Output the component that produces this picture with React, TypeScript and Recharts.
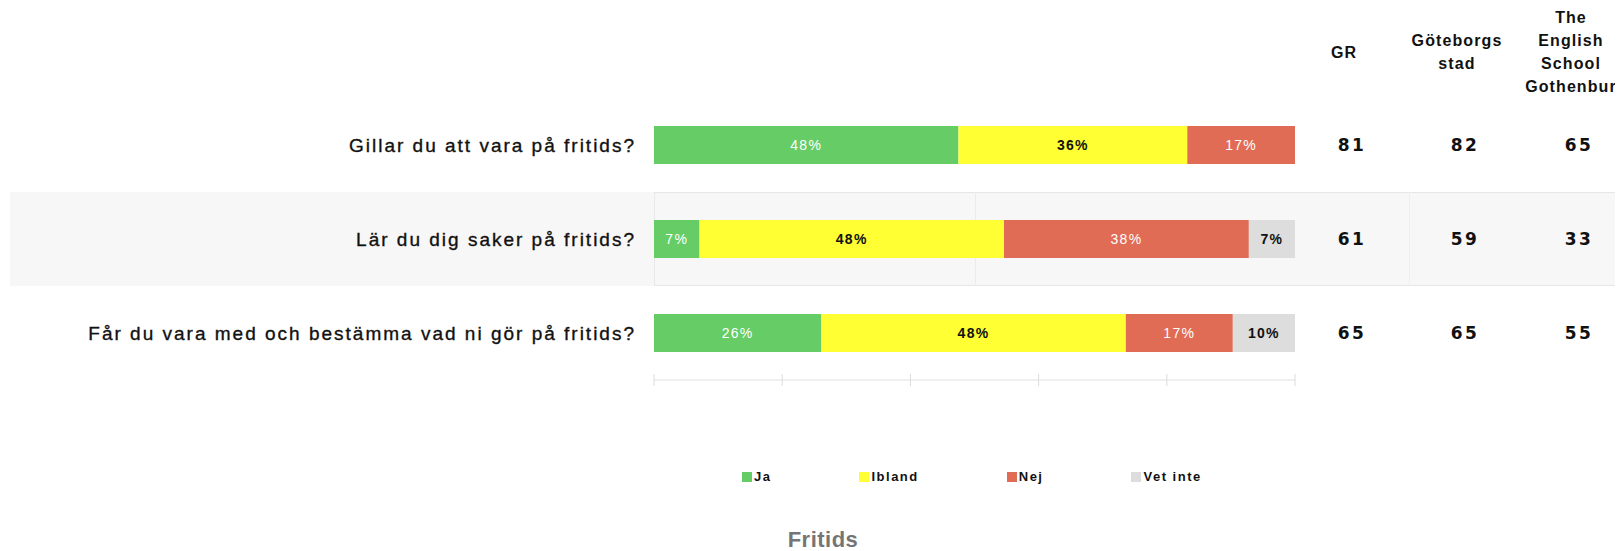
import React from 'react';
import { BarChart, Bar, XAxis, YAxis, Legend, LabelList } from 'recharts';

const questions = [
  'Gillar du att vara på fritids?',
  'Lär du dig saker på fritids?',
  'Får du vara med och bestämma vad ni gör på fritids?',
];
const seriesNames = ['Ja', 'Ibland', 'Nej', 'Vet inte'];
const ja = [47.5, 7.1, 26.1];
const ibland = [35.7, 47.5, 47.5];
const nej = [16.8, 38.2, 16.7];
const vetInte = [0, 7.2, 9.7];

const gr = [81, 61, 65];
const gbgStad = [82, 59, 65];
const englishSchool = [65, 33, 55];

const columnHeaders = [['GR'], ['Göteborgs', 'stad'], ['The', 'English', 'School', 'Gothenbur']];
const xTicks = [0, 20, 40, 60, 80, 100];

const W = 1607;
const H = 535;
const margin = { top: 90, right: 320, bottom: 133, left: 0 };
const Y_AXIS_W = 646;
const X_AXIS_H = 30;
const plotLeft = margin.left + Y_AXIS_W;
const plotRight = W - margin.right;
const plotTop = margin.top;
const bandH = (H - margin.top - margin.bottom - X_AXIS_H) / questions.length;
// header centres; the numbers sit a little to the right of them
const colCenters = [plotRight + 49, plotRight + 162, plotRight + 276];
const NUM_SHIFT = 8;

const FONT = "'Liberation Sans', Arial, sans-serif";
const FONT_NUM = "'DejaVu Sans', 'Liberation Sans', sans-serif";

const data = questions.map((q, i) => ({
  question: q,
  ja: ja[i],
  ibland: ibland[i],
  nej: nej[i],
  vetInte: vetInte[i],
}));

const pct = (v: any) => (Number(v) > 0 ? `${Math.round(Number(v))}%` : '');

function QuestionTick(props: any) {
  const { x, y, payload } = props;
  const i = questions.indexOf(payload.value);
  const vals = [gr[i], gbgStad[i], englishSchool[i]];
  return (
    <g>
      <text x={x} y={y} dy="0.35em" textAnchor="end" fill="#111" stroke="#111" strokeWidth={0.35}
        fontSize={19} fontFamily={FONT} letterSpacing={2}>
        {payload.value}
      </text>
      {vals.map((v, k) => (
        <text key={k} x={colCenters[k] + NUM_SHIFT} y={y} dy="0.35em" textAnchor="middle" fill="#111" fontSize={17}
          fontWeight="bold" fontFamily={FONT_NUM} letterSpacing={2.5}>
          {v}
        </text>
      ))}
    </g>
  );
}

function AxisTick(props: any) {
  const { x, y } = props;
  return <line x1={x} x2={x} y1={y - 6} y2={y + 6} stroke="#dcdcdc" strokeWidth={1} />;
}

function LegendContent(props: any) {
  const items = [...(props.payload || [])].sort(
    (a: any, b: any) => seriesNames.indexOf(a.value) - seriesNames.indexOf(b.value)
  );
  return (
    <div style={{ display: 'flex', gap: 88, alignItems: 'center' }}>
      {items.map((p: any) => (
        <div key={p.value} style={{ display: 'flex', alignItems: 'center' }}>
          <span style={{ width: 10, height: 10, background: p.color, display: 'inline-block', marginRight: 2 }} />
          <span style={{ fontFamily: FONT, fontWeight: 'bold', fontSize: 13, letterSpacing: 1.5, color: '#111' }}>
            {p.value}
          </span>
        </div>
      ))}
    </div>
  );
}

export default function App() {
  return (
    <div style={{ position: 'relative', width: W + 8, height: H + 8, overflow: 'hidden' }}>
      {questions.map((q, i) =>
        i % 2 === 1 ? (
          <div key={q}>
            <div style={{ position: 'absolute', left: 2, width: W + 6, top: plotTop + bandH * i, height: bandH, background: '#f7f7f7' }} />
            <div style={{ position: 'absolute', left: plotLeft, width: W + 8 - plotLeft, top: plotTop + bandH * i, height: bandH, borderTop: '1px solid #e6e6e6', borderBottom: '1px solid #e6e6e6', borderLeft: '1px solid #e8e8e8', boxSizing: 'border-box' }} />
            <div style={{ position: 'absolute', left: (plotLeft + plotRight) / 2, width: 1, top: plotTop + bandH * i, height: bandH, background: '#ebebeb' }} />
            <div style={{ position: 'absolute', left: plotRight + 114, width: 1, top: plotTop + bandH * i, height: bandH, background: '#efefef' }} />
          </div>
        ) : null
      )}
      {columnHeaders.map((lines, k) => (
        <div key={k} style={{ position: 'absolute', left: colCenters[k] - 60, width: 120, top: 44 - (lines.length * 23) / 2, textAlign: 'center', fontFamily: FONT, fontWeight: 'bold', fontSize: 16, lineHeight: '23px', color: '#111', letterSpacing: 1.1, whiteSpace: 'nowrap' }}>
          {lines.map((l) => <div key={l}>{l}</div>)}
        </div>
      ))}
      <div style={{ position: 'absolute', left: 815 - 60, width: 120, top: 519, textAlign: 'center', fontFamily: FONT, fontWeight: 'bold', fontSize: 22, lineHeight: '26px', letterSpacing: 0.5, color: '#757575' }}>
        Fritids
      </div>
      <div style={{ position: 'absolute', left: 0, top: 0 }}>
        <BarChart width={W} height={H} data={data} layout="vertical" margin={margin} barSize={38}>
          <XAxis type="number" domain={[0, 100]} ticks={xTicks} height={X_AXIS_H} axisLine={{ stroke: '#e0e0e0' }}
            tickLine={false} tickSize={0} tickMargin={0} tick={<AxisTick />} interval={0} />
          <YAxis type="category" dataKey="question" width={Y_AXIS_W} axisLine={false} tickLine={false}
            tickSize={0} tickMargin={18} tick={<QuestionTick />} interval={0} />
          <Legend verticalAlign="middle" align="center" layout="horizontal" content={<LegendContent />}
            wrapperStyle={{ position: 'absolute', top: 461, left: 734, width: 'auto' }} />
          <Bar dataKey="ja" name="Ja" stackId="a" fill="#66CC66" isAnimationActive={false}>
            <LabelList dataKey="ja" position="center" formatter={pct} fill="#ffffff" fontSize={14} fontFamily={FONT} letterSpacing={1.3} />
          </Bar>
          <Bar dataKey="ibland" name="Ibland" stackId="a" fill="#FFFF33" isAnimationActive={false}>
            <LabelList dataKey="ibland" position="center" formatter={pct} fill="#111111" fontSize={14} fontWeight="bold" fontFamily={FONT} letterSpacing={1.3} />
          </Bar>
          <Bar dataKey="nej" name="Nej" stackId="a" fill="#E06C55" isAnimationActive={false}>
            <LabelList dataKey="nej" position="center" formatter={pct} fill="#ffffff" fontSize={14} fontFamily={FONT} letterSpacing={1.3} />
          </Bar>
          <Bar dataKey="vetInte" name="Vet inte" stackId="a" fill="#DDDDDD" isAnimationActive={false}>
            <LabelList dataKey="vetInte" position="center" formatter={pct} fill="#111111" fontSize={14} fontWeight="bold" fontFamily={FONT} letterSpacing={1.3} />
          </Bar>
        </BarChart>
      </div>
    </div>
  );
}
